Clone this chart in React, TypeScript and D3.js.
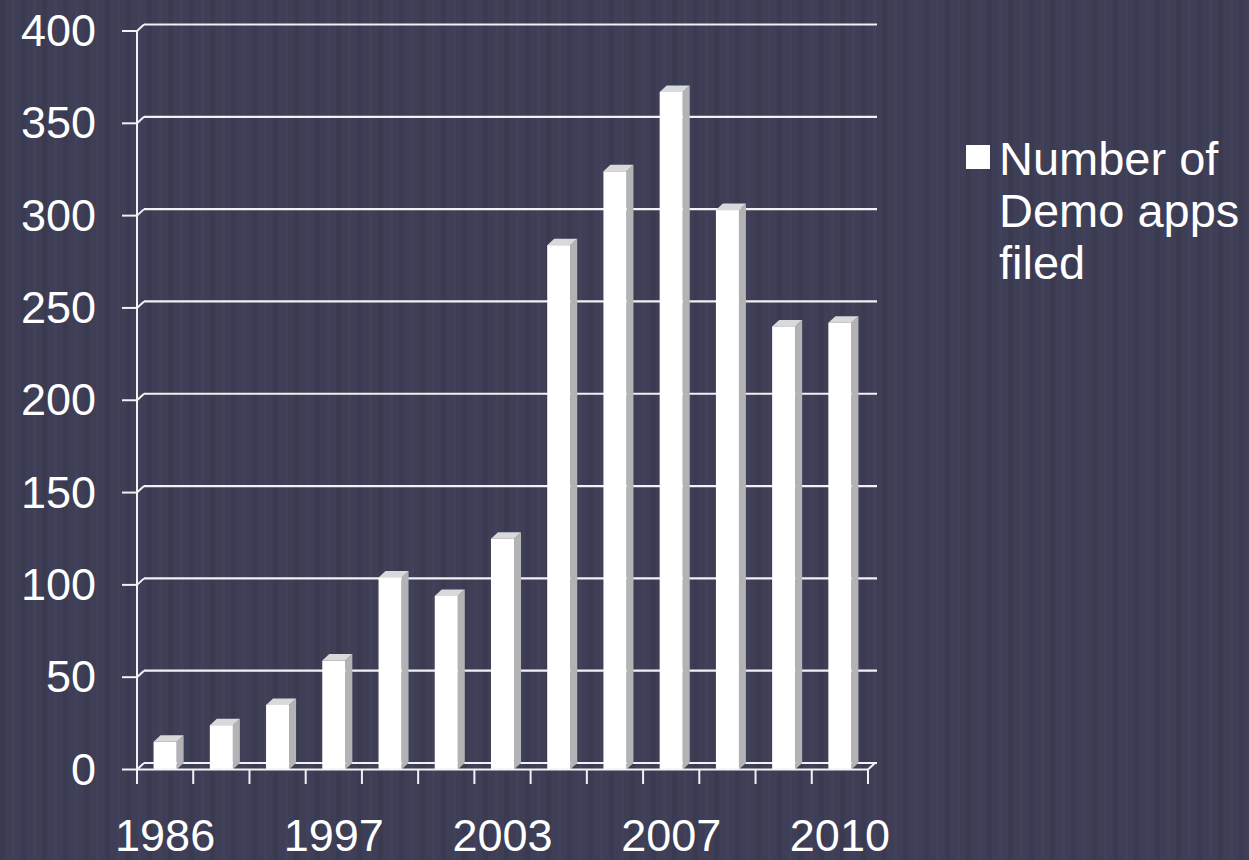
import { useEffect, useRef } from "react";
import * as d3 from "d3";

// Demo apps filed per year (only every third year is labelled on the axis)
const years = ["1986", "1991", "1995", "1997", "1999", "2001", "2003", "2004", "2006", "2007", "2008", "2009", "2010"];
const demoApps = [15, 24, 35, 59, 104, 94, 125, 284, 324, 367, 303, 240, 242];
const yTicks = [0, 50, 100, 150, 200, 250, 300, 350, 400];
const legendLines = ["Number of", "Demo apps", "filed"];

export default function App() {
  const ref = useRef<SVGSVGElement>(null);

  useEffect(() => {
    const el = ref.current;
    if (!el) return;
    const W = 1249, H = 860;
    const dx = 7, dy = -6.5; // 3D depth offset of the back wall
    const font = "'Liberation Sans', Arial, sans-serif";
    const svg = d3.select(el).attr("width", W).attr("height", H).attr("viewBox", `0 0 ${W} ${H}`);
    svg.selectAll("*").remove();

    // striped slate background
    const pat = svg.append("defs").append("pattern").attr("id", "stripes")
      .attr("patternUnits", "userSpaceOnUse").attr("width", 21).attr("height", H);
    pat.append("rect").attr("width", 21).attr("height", H).attr("fill", "#3e3e56");
    pat.append("rect").attr("x", 0).attr("width", 5).attr("height", H).attr("fill", "#3a3a51");
    pat.append("rect").attr("x", 12).attr("width", 3).attr("height", H).attr("fill", "#414159");
    svg.append("rect").attr("width", W).attr("height", H).attr("fill", "url(#stripes)");

    const x = d3.scaleBand<string>().domain(years).range([137, 868]).padding(0);
    const y = d3.scaleLinear().domain([0, 400]).range([769.5, 31]);
    const barW = x.bandwidth() * 0.41;
    const line = "#f2f2f4";

    // back wall gridlines + side wall diagonals
    const grid = svg.append("g");
    grid.selectAll("line.grid").data(yTicks).join("line")
      .attr("x1", 137 + dx).attr("x2", 868 + dx + 2)
      .attr("y1", (d) => y(d) + dy).attr("y2", (d) => y(d) + dy)
      .attr("stroke", line).attr("stroke-width", 2.2);
    grid.selectAll("line.diag").data(yTicks).join("line")
      .attr("x1", 137).attr("x2", 137 + dx)
      .attr("y1", (d) => y(d)).attr("y2", (d) => y(d) + dy)
      .attr("stroke", line).attr("stroke-width", 2);

    // floor: right diagonal
    grid.append("line").attr("x1", 868).attr("x2", 868 + dx).attr("y1", y(0)).attr("y2", y(0) + dy)
      .attr("stroke", line).attr("stroke-width", 2);

    // 3D bars
    const bars = svg.append("g").selectAll("g").data(years.map((k, i) => ({ k, v: demoApps[i] }))).join("g");
    const bx = (d: { k: string }) => (x(d.k) ?? 0) + (x.bandwidth() - barW) / 2;
    bars.append("path").attr("fill", "#b3b3b5")
      .attr("d", (d) => `M${bx(d) + barW},${y(d.v)} l${dx},${dy} L${bx(d) + barW + dx},${y(0) + dy} L${bx(d) + barW},${y(0)} Z`);
    bars.append("path").attr("fill", "#d9d9db")
      .attr("d", (d) => `M${bx(d)},${y(d.v)} l${dx},${dy} h${barW} l${-dx},${-dy} Z`);
    bars.append("rect").attr("fill", "#ffffff")
      .attr("x", bx).attr("y", (d) => y(d.v)).attr("width", barW).attr("height", (d) => y(0) - y(d.v));

    // axes
    const ax = svg.append("g").attr("stroke", line).attr("stroke-width", 2);
    ax.append("line").attr("x1", 137).attr("x2", 137).attr("y1", y(400)).attr("y2", 784);
    ax.append("line").attr("x1", 137).attr("x2", 868).attr("y1", y(0)).attr("y2", y(0));
    ax.selectAll("line.yt").data(yTicks).join("line")
      .attr("x1", 122).attr("x2", 137).attr("y1", (d) => y(d)).attr("y2", (d) => y(d));
    const edges = years.map((k) => x(k) ?? 0).concat([868]);
    ax.selectAll("line.xt").data(edges).join("line")
      .attr("x1", (d) => d).attr("x2", (d) => d).attr("y1", y(0)).attr("y2", 784);

    svg.append("g").selectAll("text").data(yTicks).join("text")
      .attr("x", 96).attr("y", (d) => y(d) + 15).attr("text-anchor", "end")
      .attr("fill", "#ffffff").attr("font-family", font).attr("font-size", 45)
      .text((d) => d);

    svg.append("g").selectAll("text").data(years.filter((_, i) => i % 3 === 0)).join("text")
      .attr("x", (d) => (x(d) ?? 0) + x.bandwidth() / 2).attr("y", 851).attr("text-anchor", "middle")
      .attr("fill", "#ffffff").attr("font-family", font).attr("font-size", 45)
      .text((d) => d);

    // legend
    const lg = svg.append("g");
    lg.append("rect").attr("x", 966).attr("y", 145).attr("width", 24).attr("height", 24).attr("fill", "#ffffff");
    lg.selectAll("text").data(legendLines).join("text")
      .attr("x", 999).attr("y", (_, i) => 175 + i * 52)
      .attr("fill", "#ffffff").attr("font-family", font).attr("font-size", 47)
      .text((d) => d);
  }, []);

  return <svg ref={ref} style={{ position: "absolute", left: 0, top: 0, display: "block" }} />;
}
